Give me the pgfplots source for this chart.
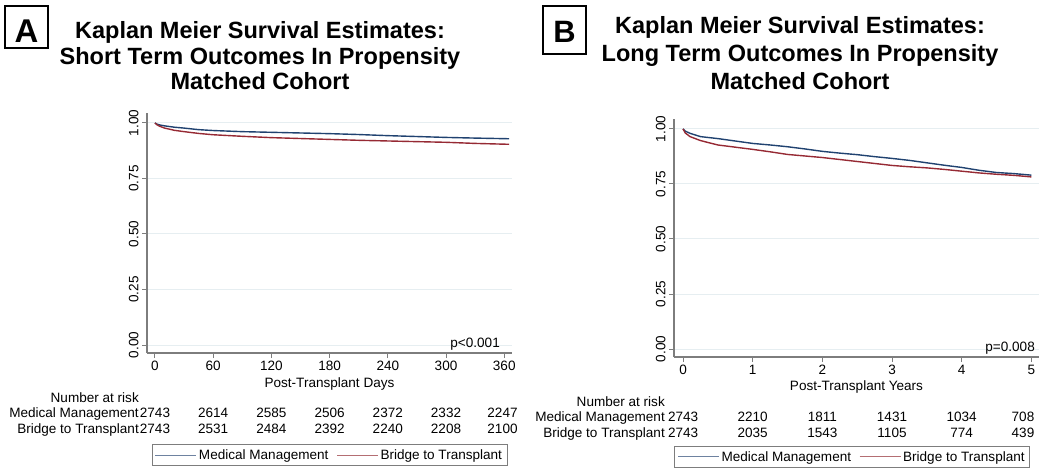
\documentclass[border=0pt]{standalone}
\usepackage{fontspec}
\setmainfont{Liberation Sans}
\usepackage{pgfplots}
\pgfplotsset{compat=1.18}
\definecolor{kmblue}{RGB}{32,66,112}
\definecolor{kmred}{RGB}{150,42,52}
\definecolor{legblue}{RGB}{110,130,160}
\definecolor{legred}{RGB}{180,110,115}
\definecolor{gridc}{RGB}{230,238,241}
\definecolor{axc}{RGB}{125,125,125}
\newcommand{\tf}{\fontsize{13.6}{15}\selectfont}
\newcommand{\ttl}{\fontsize{23.6}{26}\selectfont\bfseries}
\pgfplotsset{kmstyle/.style={
  scale only axis, width=365bp,
  axis x line*=bottom, axis y line*=left,
  axis line style={axc, line width=1.2bp},
  tick style={axc, line width=1bp},
  major tick length=5bp, tick align=outside,
  ymin=-0.036, ymax=1.045,
  ytick={0,0.25,0.5,0.75,1},
  yticklabel style={rotate=90, anchor=south, /pgf/number format/.cd, fixed, fixed zerofill, precision=2},
  ymajorgrids, grid style={gridc, line width=1bp},
  ticklabel style={font=\tf},
  label style={font=\tf},
  /pgf/number format/assume math mode=true,
  clip=false,
  legend columns=2,
  legend cell align=left,
  legend image code/.code={\draw[##1] (0bp,0bp) -- (41bp,0bp);},
  legend style={draw=axc, line width=0.9bp, fill=white, font=\tf,
    inner xsep=3bp, inner ysep=2.5bp,
    /tikz/every even column/.append style={column sep=6bp}},
}}
\begin{document}
\begin{tikzpicture}
\path[use as bounding box] (0bp,0bp) rectangle (1050bp,475bp);
% ---------- Panel A ----------
\begin{axis}[kmstyle, at={(147bp,122bp)}, anchor=south west, height=240bp,
  xmin=-8.2, xmax=368, xtick={0,60,120,180,240,300,360},
  xlabel={Post-Transplant Days},
  xlabel style={at={(axis description cs:0.5,-0.144)}, anchor=base},
  legend style={at={(axis description cs:0.5,-0.425)}, anchor=center}]
\addlegendimage{legblue, line width=1bp}
\addlegendentry{Medical Management}
\addlegendimage{legred, line width=1bp}
\addlegendentry{Bridge to Transplant}
\addplot[kmblue, line width=1.4bp, forget plot] coordinates {
(0,1) (2,0.995) (5,0.991) (10,0.987) (20,0.981) (30,0.977) (45,0.970) (60,0.966)
(90,0.961) (120,0.958) (150,0.955) (180,0.952) (210,0.948) (240,0.943)
(270,0.939) (300,0.935) (330,0.932) (365,0.929)};
\addplot[kmred, line width=1.4bp, forget plot] coordinates {
(0,1) (2,0.992) (5,0.985) (10,0.977) (20,0.967) (30,0.961) (45,0.953) (60,0.947)
(90,0.940) (120,0.934) (150,0.930) (180,0.926) (210,0.922) (240,0.919)
(270,0.916) (300,0.913) (330,0.908) (365,0.904)};
\end{axis}
% ---------- Panel B ----------
\begin{axis}[kmstyle, at={(674bp,118bp)}, anchor=south west, height=238bp,
  xmin=-0.13, xmax=5.11, xtick={0,1,2,3,4,5},
  xlabel={Post-Transplant Years},
  xlabel style={at={(axis description cs:0.5,-0.139)}, anchor=base},
  legend style={at={(axis description cs:0.488,-0.42)}, anchor=center}]
\addlegendimage{legblue, line width=1bp}
\addlegendentry{Medical Management}
\addlegendimage{legred, line width=1bp}
\addlegendentry{Bridge to Transplant}
\addplot[kmblue, line width=1.4bp, forget plot] coordinates {
(0,1) (0.03,0.99) (0.1,0.980) (0.25,0.965) (0.5,0.956) (0.75,0.945) (1,0.934)
(1.25,0.927) (1.5,0.919) (1.75,0.909) (2,0.898) (2.25,0.890) (2.5,0.883)
(2.75,0.874) (3,0.866) (3.25,0.857) (3.5,0.846) (3.75,0.835) (4,0.825)
(4.25,0.812) (4.5,0.802) (4.75,0.797) (5,0.790)};
\addplot[kmred, line width=1.4bp, forget plot] coordinates {
(0,1) (0.03,0.982) (0.1,0.965) (0.25,0.947) (0.5,0.927) (0.75,0.917) (1,0.907)
(1.25,0.896) (1.5,0.884) (1.75,0.877) (2,0.870) (2.25,0.861) (2.5,0.852)
(2.75,0.843) (3,0.834) (3.25,0.828) (3.5,0.823) (3.75,0.816) (4,0.808)
(4.25,0.800) (4.5,0.794) (4.75,0.789) (5,0.782)};
\end{axis}
% ---------- Titles and panel letters ----------
\draw[line width=2bp] (5bp,427bp) rectangle (48bp,469bp);
\node[anchor=base, inner sep=0pt, font=\fontsize{33}{36}\selectfont\bfseries] at (26.5bp,432bp) {A};
\draw[line width=2bp] (543bp,421bp) rectangle (586bp,469bp);
\node[anchor=base, inner sep=0pt, font=\fontsize{31}{34}\selectfont\bfseries] at (564.5bp,432bp) {B};
\node[anchor=base, inner sep=0pt, font=\ttl] at (260bp,436bp) {Kaplan Meier Survival Estimates:};
\node[anchor=base, inner sep=0pt, font=\ttl] at (260bp,410.5bp) {Short Term Outcomes In Propensity};
\node[anchor=base, inner sep=0pt, font=\ttl] at (260bp,385.5bp) {Matched Cohort};
\node[anchor=base, inner sep=0pt, font=\ttl] at (800bp,441bp) {Kaplan Meier Survival Estimates:};
\node[anchor=base, inner sep=0pt, font=\ttl] at (800bp,413bp) {Long Term Outcomes In Propensity};
\node[anchor=base, inner sep=0pt, font=\ttl] at (800bp,385bp) {Matched Cohort};
% ---------- p values ----------
\node[anchor=base east, inner sep=0pt, font=\tf] at (500bp,127.5bp) {p<0.001};
\node[anchor=base east, inner sep=0pt, font=\tf] at (1035bp,123bp) {p=0.008};
% ---------- Numbers at risk, panel A ----------
\begin{scope}[every node/.style={inner sep=0pt, font=\tf}]
\node[anchor=base east] at (139bp,72bp) {Number at risk};
\node[anchor=base east] at (139bp,57bp) {Medical Management};
\node[anchor=base east] at (139bp,41bp) {Bridge to Transplant};
\foreach \x/\a/\b in {155.0/2743/2743, 213.2/2614/2531, 271.4/2585/2484, 329.6/2506/2392, 387.8/2372/2240, 446.0/2332/2208, 502.5/2247/2100}{
  \node[anchor=base] at (\x bp,57bp) {\a};
  \node[anchor=base] at (\x bp,41bp) {\b};
}
% ---------- Numbers at risk, panel B ----------
\node[anchor=base east] at (665bp,68bp) {Number at risk};
\node[anchor=base east] at (665bp,53bp) {Medical Management};
\node[anchor=base east] at (665bp,38bp) {Bridge to Transplant};
\foreach \x/\a/\b in {683.1/2743/2743, 752.7/2210/2035, 822.4/1811/1543, 892.0/1431/1105, 961.7/1034/774, 1023.0/708/439}{
  \node[anchor=base] at (\x bp,53bp) {\a};
  \node[anchor=base] at (\x bp,38bp) {\b};
}
\end{scope}
\end{tikzpicture}
\end{document}
